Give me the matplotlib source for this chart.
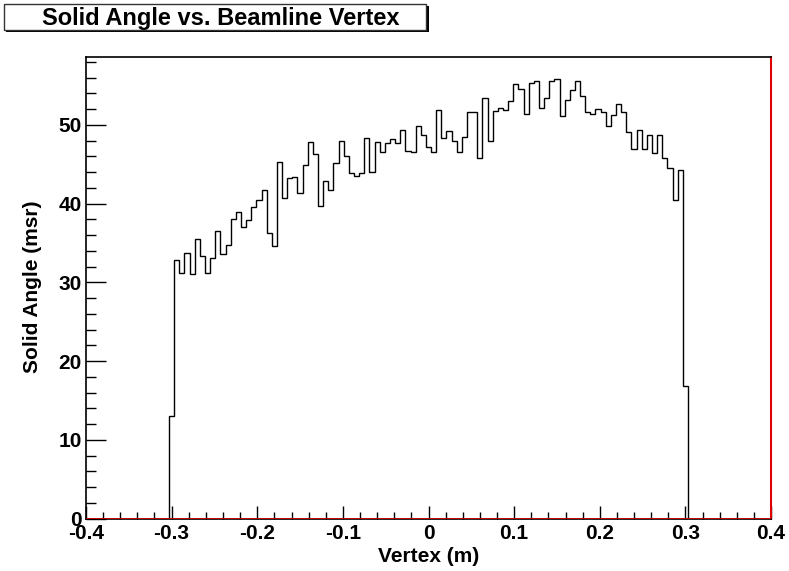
import numpy as np
import matplotlib
matplotlib.use("Agg")
import matplotlib.pyplot as plt
from matplotlib.patches import Rectangle
from matplotlib.ticker import MultipleLocator

# Histogram definition: 101 bins centred on -0.300 ... 0.300 (width 0.006 m)
n_bins = 101
x_low, x_high = -0.303, 0.303

# Solid angle per vertex bin (msr)
solid_angle = [
    13.0, 32.9, 31.2, 33.7, 31.0, 35.5, 33.3, 31.2, 33.1, 36.5,
    33.6, 34.8, 38.0, 39.0, 37.0, 37.9, 39.6, 40.5, 41.7, 36.3,
    34.6, 45.3, 40.7, 43.2, 43.4, 41.4, 44.9, 47.8, 46.3, 39.7,
    42.9, 41.7, 45.2, 48.0, 46.0, 43.9, 43.5, 43.9, 48.4, 44.0,
    47.8, 46.5, 47.7, 48.2, 47.7, 49.4, 46.7, 46.5, 49.8, 48.7,
    47.2, 46.5, 51.9, 48.3, 49.2, 47.9, 46.6, 48.5, 51.6, 51.6,
    45.8, 53.4, 47.9, 51.8, 52.2, 51.9, 53.0, 55.2, 54.6, 51.4,
    55.3, 55.6, 52.2, 53.4, 55.6, 55.8, 51.1, 53.2, 54.4, 55.6,
    53.7, 51.6, 51.4, 52.0, 51.6, 49.9, 51.2, 52.7, 51.6, 49.1,
    47.0, 49.3, 47.0, 48.7, 46.4, 48.7, 45.8, 44.5, 40.5, 44.3,
    16.8,
]

x_ticks = [-0.4, -0.3, -0.2, -0.1, 0, 0.1, 0.2, 0.3, 0.4]
x_tick_labels = ["-0.4", "-0.3", "-0.2", "-0.1", "0", "0.1", "0.2", "0.3", "0.4"]
y_ticks = [0, 10, 20, 30, 40, 50]

title_text = "Solid Angle vs. Beamline Vertex"
x_title = "Vertex (m)"
y_title = "Solid Angle (msr)"

plt.rcParams["font.family"] = ["Liberation Sans", "DejaVu Sans"]
plt.rcParams["font.weight"] = "bold"

W, H = 789, 571
fig = plt.figure(figsize=(W / 100, H / 100), dpi=100)
fig.patch.set_facecolor("white")

# frame: left 86 px, right 771 px, top 57 px, bottom 518.5 px
L, R, T, B = 86, 771, 57.3, 518.5
ax = fig.add_axes([L / W, (H - B) / H, (R - L) / W, (B - T) / H])

edges = np.linspace(x_low, x_high, n_bins + 1)
values = np.array(solid_angle)
ax.stairs(values, edges, baseline=0, color="black", linewidth=1.0, zorder=3)

ax.set_xlim(-0.4, 0.4)
ax.set_ylim(0, values.max() * 1.05)

# red zero line and red right edge
ax.axhline(0, color="#dd0000", linewidth=1.2, zorder=4)
for side in ["left", "bottom", "top"]:
    ax.spines[side].set_color("black")
    ax.spines[side].set_linewidth(1.2)
ax.spines["right"].set_color("#dd0000")
ax.spines["right"].set_linewidth(1.5)

ax.set_xticks(x_ticks)
ax.set_xticklabels(x_tick_labels)
ax.xaxis.set_minor_locator(MultipleLocator(0.02))
ax.set_yticks(y_ticks)
ax.yaxis.set_minor_locator(MultipleLocator(2))

ax.tick_params(axis="x", which="major", direction="in", length=9.6, width=1,
               labelsize=15, pad=4, top=False)
ax.tick_params(axis="x", which="minor", direction="in", length=4.8, width=1, top=False)
ax.tick_params(axis="y", which="major", direction="in", length=14.4, width=1,
               labelsize=15, pad=3, right=False)
ax.tick_params(axis="y", which="minor", direction="in", length=7.2, width=1, right=False)
for lab in ax.get_xticklabels() + ax.get_yticklabels():
    lab.set_fontweight("bold")

ax.set_xlabel(x_title, fontsize=15, fontweight="bold", va="center", ha="center")
ax.set_ylabel(y_title, fontsize=15, fontweight="bold", va="center", ha="center")
# axis titles centred at (430, 556) and (33, 287) px
ax.xaxis.set_label_coords(0.5, (B - 556) / (B - T))
ax.yaxis.set_label_coords((33 - L) / (R - L), (B - 287) / (B - T))

# title pave with drop shadow
bx0, by0, bx1, by1 = 3.5, 3.5, 426, 29.5
fig.patches.append(Rectangle((bx0 + 2.5, H - by1 - 2.5), bx1 - bx0, by1 - by0,
                             transform=None, facecolor="black", edgecolor="none",
                             zorder=1))
fig.patches.append(Rectangle((bx0, H - by1), bx1 - bx0, by1 - by0,
                             transform=None, facecolor="white", edgecolor="#333333",
                             linewidth=1.0, zorder=2))
fig.text(220.5 / W, 1 - 18.5 / H, title_text, ha="center", va="center",
         fontsize=17, fontweight="bold", zorder=3)

fig.savefig("out.png", dpi=100)
